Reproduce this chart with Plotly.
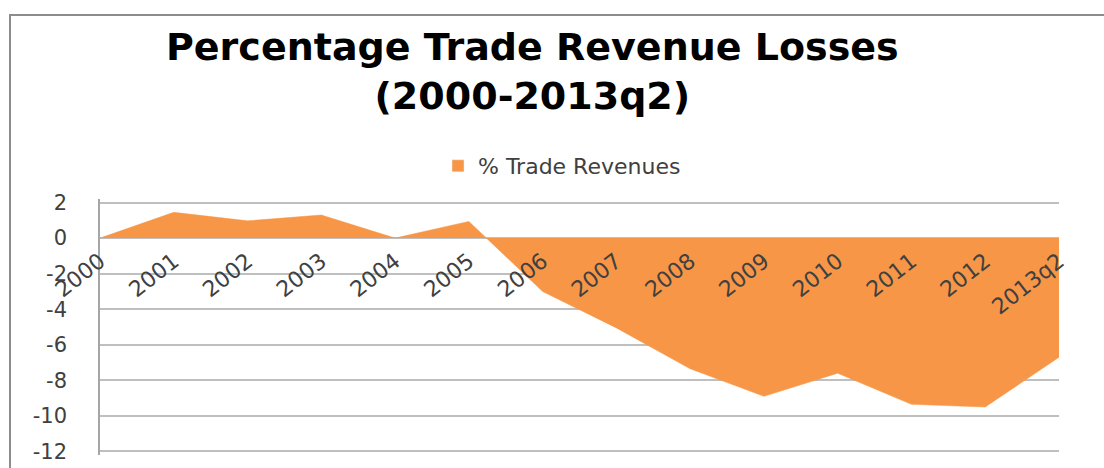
import plotly.graph_objects as go

# Period labels and percentage change in trade revenues
periods = ["2000", "2001", "2002", "2003", "2004", "2005", "2006",
           "2007", "2008", "2009", "2010", "2011", "2012", "2013q2"]
trade_revenues = [0.0, 1.45, 0.97, 1.3, 0.0, 0.94, -3.0,
                  -5.05, -7.35, -8.9, -7.6, -9.35, -9.5, -6.7]

y_ticks = [2, 0, -2, -4, -6, -8, -10, -12]

ORANGE = "#F79646"
GRID = "#BFBFBF"
TEXT = "#404040"

W, H = 1104, 468
L, R, T, B = 100, 45, 199, 13
plot_w = W - L - R
plot_h = H - T - B

fig = go.Figure()
fig.add_trace(go.Scatter(
    x=periods,
    y=trade_revenues,
    mode="lines",
    fill="tozeroy",
    fillcolor=ORANGE,
    line=dict(color=ORANGE, width=0.5),
    name="% Trade Revenues",
    showlegend=False,
))
# legend entry drawn as a square swatch
fig.add_trace(go.Bar(
    x=[None], y=[None],
    marker=dict(color=ORANGE),
    name="% Trade Revenues",
    showlegend=True,
))

# a little headroom so the outer gridlines (2 and -12) are kept
y_lo, y_hi = -12.2, 2.2
zero_pos = (0 - y_lo) / (y_hi - y_lo)

fig.update_layout(
    width=W, height=H,
    margin=dict(l=L, r=R, t=T, b=B, pad=0, autoexpand=False),
    paper_bgcolor="white",
    plot_bgcolor="white",
    showlegend=True,
    legend=dict(
        orientation="h",
        x=562 / W, xanchor="center", xref="container",
        y=1 - 145 / H, yanchor="top", yref="container",
        font=dict(family="DejaVu Sans", size=22, color=TEXT),
        itemwidth=30,
        bgcolor="rgba(0,0,0,0)",
    ),
    xaxis=dict(
        type="category",
        range=[0, len(periods) - 1],
        anchor="free",
        position=zero_pos,
        showgrid=False,
        showline=False,
        zeroline=False,
        ticks="",
        tickangle=-38,
        ticklabelstandoff=5,
        tickfont=dict(family="DejaVu Sans", size=22, color=TEXT),
        automargin=False,
        fixedrange=True,
    ),
    yaxis=dict(
        range=[y_lo, y_hi],
        tickvals=y_ticks,
        ticktext=[str(v) for v in y_ticks],
        showgrid=True,
        gridcolor=GRID,
        gridwidth=1.5,
        zeroline=True,
        zerolinecolor=GRID,
        zerolinewidth=1.5,
        showline=True,
        linecolor="#A6A6A6",
        linewidth=1.5,
        ticks="",
        ticklabelstandoff=27,
        tickfont=dict(family="DejaVu Sans", size=21, color=TEXT),
        automargin=False,
        fixedrange=True,
    ),
)

# Two-line chart title
fig.add_annotation(
    text="Percentage Trade Revenue Losses<br>(2000-2013q2)",
    xref="paper", yref="paper",
    x=(532 - L) / plot_w, xanchor="center",
    y=(H - B - 23) / plot_h, yanchor="top",
    showarrow=False,
    align="center",
    font=dict(family="DejaVu Sans", size=38, color="black", weight="bold"),
)

# Outer chart frame
fig.add_shape(
    type="rect", xref="paper", yref="paper",
    x0=(10 - L) / plot_w, x1=(W + 10 - L) / plot_w,
    y0=-(B + 10) / plot_h,
    y1=(H - B - 15) / plot_h,
    line=dict(color="#8C8C8C", width=2),
    fillcolor="rgba(0,0,0,0)",
    layer="above",
)

fig.write_html("out.html")
